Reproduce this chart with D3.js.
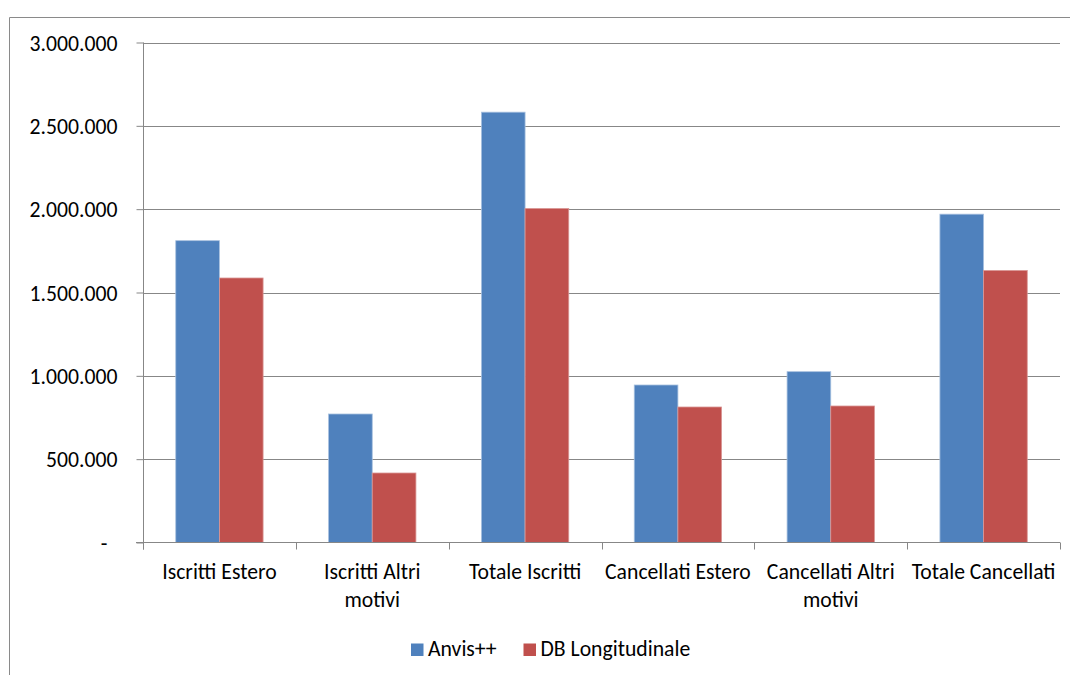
<!DOCTYPE html>
<html>
<head>
<meta charset="utf-8">
<script src="https://cdn.jsdelivr.net/npm/d3@7"></script>
<style>
  html, body { margin: 0; padding: 0; background: #fff; }
  svg { display: block; }
  text { font-family: Carlito, Calibri, Lato, "Open Sans", sans-serif; fill: #000; }
</style>
</head>
<body>
<svg id="chart" width="1070" height="675"></svg>
<script>
// Categories (each entry holds the wrapped label lines)
const categories = [
  "Iscritti Estero",
  "Iscritti Altri motivi",
  "Totale Iscritti",
  "Cancellati Estero",
  "Cancellati Altri motivi",
  "Totale Cancellati"
];
const categoryLines = [
  ["Iscritti Estero"],
  ["Iscritti Altri", "motivi"],
  ["Totale Iscritti"],
  ["Cancellati Estero"],
  ["Cancellati Altri", "motivi"],
  ["Totale Cancellati"]
];

// Series
const seriesNames = ["Anvis++", "DB Longitudinale"];
const anvis = [1811000, 771000, 2582000, 945000, 1025000, 1970000];
const dbLongitudinale = [1587000, 417000, 2004000, 813000, 819000, 1632000];

// Y axis ticks
const yTicks = [0, 500000, 1000000, 1500000, 2000000, 2500000, 3000000];
const yTickLabels = ["-", "500.000", "1.000.000", "1.500.000", "2.000.000", "2.500.000", "3.000.000"];

const colors = ["#4f81bd", "#c0504d"];
const edgeColors = ["#a7c0df", "#d99694"];

const svg = d3.select("#chart");
const plot = { left: 143, right: 1060, top: 42.5, bottom: 542.5 };
const fontSize = 21.7;

// Chart frame (top and left edges visible)
svg.append("line").attr("x1", 9.5).attr("x2", 1070).attr("y1", 17.5).attr("y2", 17.5)
  .attr("stroke", "#8a8a8a").attr("stroke-width", 1);
svg.append("line").attr("x1", 9.5).attr("x2", 9.5).attr("y1", 17.5).attr("y2", 675)
  .attr("stroke", "#8a8a8a").attr("stroke-width", 1);

const x0 = d3.scaleBand().domain(categories).range([plot.left, plot.right])
  .paddingInner(0).paddingOuter(0);
const x1 = d3.scaleBand().domain(seriesNames).range([0, x0.bandwidth()])
  .paddingInner(0).paddingOuter(0.75);
const y = d3.scaleLinear().domain([0, 3000000]).range([plot.bottom, plot.top]);

// Gridlines
svg.append("g").selectAll("line").data(yTicks.slice(1)).join("line")
  .attr("x1", plot.left).attr("x2", plot.right)
  .attr("y1", d => Math.round(y(d)) + 0.5).attr("y2", d => Math.round(y(d)) + 0.5)
  .attr("stroke", "#878787").attr("stroke-width", 1);

// Bars
const data = categories.map((c, i) => ({ cat: c, values: [anvis[i], dbLongitudinale[i]] }));
const groups = svg.append("g").selectAll("g").data(data).join("g")
  .attr("transform", d => `translate(${x0(d.cat)},0)`);
groups.selectAll("rect")
  .data(d => d.values.map((v, k) => ({ series: seriesNames[k], k, v })))
  .join("rect")
  .attr("x", d => x1(d.series))
  .attr("width", x1.bandwidth())
  .attr("y", d => y(d.v))
  .attr("height", d => y(0) - y(d.v))
  .attr("fill", d => colors[d.k])
  .attr("stroke", d => edgeColors[d.k])
  .attr("stroke-width", 0.8);

// Y axis
const yAxis = d3.axisLeft(y).tickValues(yTicks)
  .tickFormat((d, i) => yTickLabels[i]).tickSize(7).tickPadding(19);
const gy = svg.append("g").attr("transform", `translate(${plot.left + 0.5},0)`).call(yAxis);
gy.select(".domain").remove();
gy.selectAll(".tick line").attr("stroke", "#878787");
gy.selectAll(".tick text").style("font-size", fontSize + "px").attr("dy", "0.36em")
  .attr("dx", (d, i) => i === 0 ? -10 : 0);
gy.append("line").attr("x1", 0).attr("x2", 0).attr("y1", plot.top).attr("y2", plot.bottom + 7)
  .attr("stroke", "#878787");

// X axis with ticks on category boundaries
const gx = svg.append("g");
gx.append("line").attr("x1", plot.left - 7).attr("x2", plot.right)
  .attr("y1", plot.bottom).attr("y2", plot.bottom).attr("stroke", "#878787");
const boundaries = categories.map(c => x0(c)).concat([plot.right]);
gx.selectAll("line.tk").data(boundaries).join("line").attr("class", "tk")
  .attr("x1", d => Math.round(d) + 0.5).attr("x2", d => Math.round(d) + 0.5)
  .attr("y1", plot.bottom).attr("y2", plot.bottom + 7).attr("stroke", "#878787");

// Category labels
const labels = svg.append("g").selectAll("text").data(categories).join("text")
  .attr("x", d => x0(d) + x0.bandwidth() / 2)
  .attr("y", 579)
  .attr("text-anchor", "middle")
  .style("font-size", fontSize + "px");
labels.selectAll("tspan").data((d, i) => categoryLines[i]).join("tspan")
  .attr("x", function () { return this.parentNode.getAttribute("x"); })
  .attr("dy", (d, j) => j === 0 ? 0 : 27.5)
  .text(d => d);

// Legend
const legendItems = [{ name: seriesNames[0], x: 411 }, { name: seriesNames[1], x: 523.5 }];
const lg = svg.append("g").selectAll("g").data(legendItems).join("g")
  .attr("transform", d => `translate(${d.x},643.5)`);
lg.append("rect").attr("width", 12.5).attr("height", 12.5)
  .attr("fill", (d, i) => colors[i]);
lg.append("text").attr("x", 17).attr("y", 12.5)
  .style("font-size", fontSize + "px").text(d => d.name);
</script>
</body>
</html>
